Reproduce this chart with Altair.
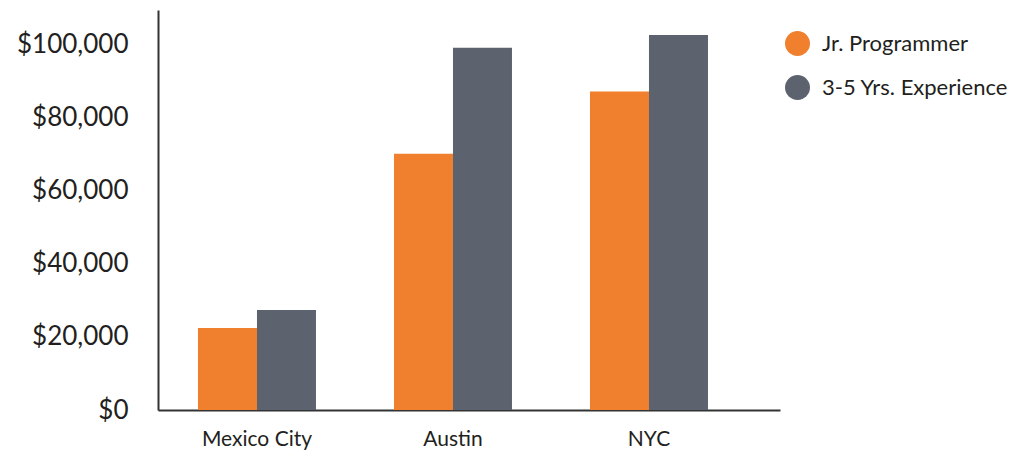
import altair as alt
import pandas as pd

# Annual salary by city and experience level
cities = ["Mexico City", "Austin", "NYC"]
series = ["Jr. Programmer", "3-5 Yrs. Experience"]
jr_salary = [22400, 70000, 87000]
exp_salary = [27300, 99000, 102500]
colors = ["#F07F2E", "#5D636E"]

rows = []
for city, jr, ex in zip(cities, jr_salary, exp_salary):
    rows.append({"city": city, "level": series[0], "salary": jr})
    rows.append({"city": city, "level": series[1], "salary": ex})
df = pd.DataFrame(rows)

font = "Lato"
ink = "#231F20"

bars = alt.Chart(df).mark_bar(size=59).encode(
    x=alt.X(
        "city:N",
        sort=cities,
        title=None,
        scale=alt.Scale(paddingInner=0.398, paddingOuter=0.2857, align=0.357),
        axis=alt.Axis(
            labelAngle=0,
            labelFont=font,
            labelFontSize=21,
            labelColor=ink,
            labelPadding=18,
            ticks=False,
            domainColor="#333333",
            domainWidth=2,
        ),
    ),
    xOffset=alt.XOffset("level:N", sort=series, scale=alt.Scale(paddingInner=0, paddingOuter=0)),
    y=alt.Y(
        "salary:Q",
        title=None,
        scale=alt.Scale(domain=[0, 109300], nice=False),
        axis=alt.Axis(
            values=[0, 20000, 40000, 60000, 80000, 100000],
            format="$,.0f",
            labelFont=font,
            labelFontSize=26,
            labelColor=ink,
            labelPadding=30,
            ticks=False,
            grid=False,
            domainColor="#333333",
            domainWidth=2,
        ),
    ),
    color=alt.Color(
        "level:N",
        sort=series,
        scale=alt.Scale(domain=series, range=colors),
        legend=alt.Legend(
            title=None,
            orient="none",
            legendX=627,
            legendY=21,
            symbolType="circle",
            symbolSize=625,
            symbolStrokeWidth=0,
            symbolOpacity=1,
            labelFont=font,
            labelFontSize=22,
            labelColor=ink,
            labelOffset=12,
            rowPadding=19,
            labelLimit=300,
        ),
    ),
)

chart = bars.properties(
    width=622,
    height=400,
    autosize=alt.AutoSizeParams(type="none"),
    padding={"left": 158, "top": 10, "right": 235, "bottom": 43},
).configure(background="white").configure_view(stroke=None, strokeWidth=0)

chart.save("out.html", embed_options={"renderer": "svg", "actions": False})
